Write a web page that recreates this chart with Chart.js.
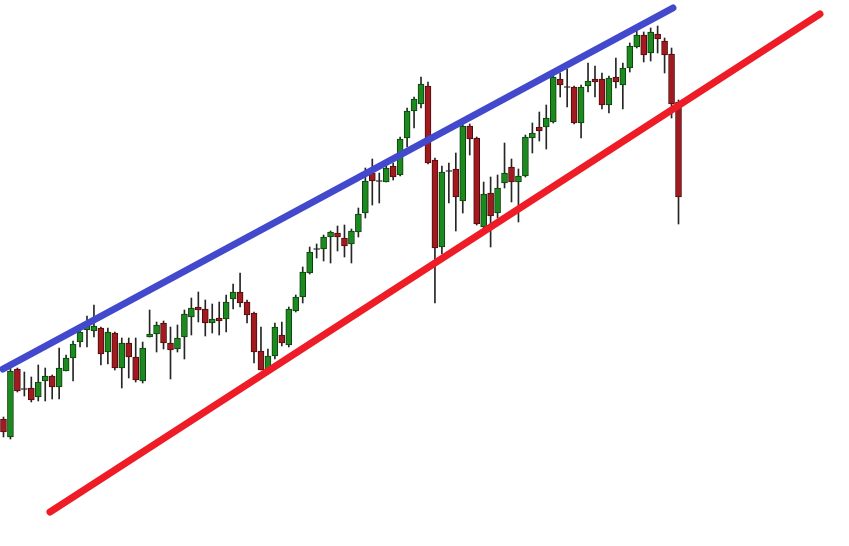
<!DOCTYPE html>
<html>
<head>
<meta charset="utf-8">
<script src="https://cdn.jsdelivr.net/npm/chart.js@4.4.1/dist/chart.umd.min.js"></script>
<style>
  html, body { margin: 0; padding: 0; background: #ffffff; }
  #wrap { position: relative; width: 849px; height: 546px; }
</style>
</head>
<body>
<div id="wrap"><canvas id="c"></canvas></div>
<script>
// ---- Data (prices in arbitrary chart units) ----
const opens  = [127,109,177,157,158,149,165,170,159,175,188,204,216,215,218,194,213,178,203,189,165,209,212,223,203,197,209,229,239,237,223,228,227,247,254,244,233,195,177,190,211,201,235,249,273,297,297,309,313,308,302,314,333,373,365,364,380,371,408,435,442,460,386,299,375,377,345,420,408,319,353,333,363,379,364,370,408,419,419,424,467,459,459,423,460,467,467,441,469,461,478,499,511,493,512,505,492,444];
const highs  = [129,178,178,174,169,181,178,171,198,191,205,221,230,241,219,218,214,208,208,208,204,236,224,225,219,221,236,248,254,246,242,244,251,262,273,246,234,219,197,223,224,239,251,279,299,302,311,315,320,321,317,338,378,387,373,381,383,409,438,449,469,464,388,380,383,393,424,422,409,364,369,371,403,387,377,411,423,434,441,471,473,477,460,461,483,480,473,470,488,483,503,515,514,518,520,508,498,446];
const lows   = [109,107,154,150,144,145,145,147,147,175,165,199,199,209,181,182,176,158,168,164,163,209,194,197,167,194,187,211,224,210,213,211,214,237,239,223,183,176,176,187,200,199,234,243,272,288,285,283,295,289,283,309,328,341,343,364,366,370,399,418,438,382,243,292,343,315,333,391,321,318,299,328,358,344,324,369,393,405,397,423,449,439,422,408,454,449,437,433,458,437,474,498,484,485,493,473,428,322];
const closes = [114,175,155,157,146,164,170,159,178,188,202,214,220,220,192,214,178,203,189,166,198,212,221,203,196,208,232,238,236,223,227,225,244,254,243,231,194,176,190,219,203,237,249,274,294,297,309,314,309,300,315,332,365,365,365,378,369,407,435,447,462,383,298,374,375,349,420,407,322,352,330,358,373,364,370,409,413,415,428,469,461,459,423,459,465,464,441,468,464,478,500,511,491,514,507,491,442,349];

// Trend lines: [bar index, price] for start and end
const upperLine = [[-0.07, 177], [96.2, 538]];
const lowerLine = [[6.68, 34], [117.33, 532]];

const totalSlots = 122;  // candle slots across the window (incl. empty right side)
const yMin = 0, yMax = 546;

// ---- Build datasets ----
const labels = Array.from({length: totalSlots}, (_, i) => String(i));
const wickData = labels.map((_, i) => i < opens.length ? [lows[i], highs[i]] : null);
const bodyData = labels.map((_, i) => {
  if (i >= opens.length) return null;
  const lo = Math.min(opens[i], closes[i]), hi = Math.max(opens[i], closes[i]);
  if (hi - lo < 1) { const m = (hi + lo) / 2; return [m - 0.5, m + 0.5]; }
  return [lo, hi];
});
const kind = (i) => {
  if (i >= opens.length) return 'none';
  if (Math.abs(opens[i] - closes[i]) < 1) return 'doji';
  return closes[i] > opens[i] ? 'up' : 'down';
};
const fillOf = (ctx) => ({up: '#1d8a1f', down: '#a11a1f', doji: '#222222', none: '#000'})[kind(ctx.dataIndex)];
const edgeOf = (ctx) => ({up: '#0c3f0d', down: '#4f0b0d', doji: '#222222', none: '#000'})[kind(ctx.dataIndex)];

const toPts = (arr) => arr.map(p => ({x: p[0], y: p[1]}));

new Chart(document.getElementById('c'), {
  type: 'bar',
  data: {
    labels: labels,
    datasets: [
      {
        label: 'wick', data: wickData, grouped: false, order: 3,
        backgroundColor: '#262626', borderWidth: 0, barThickness: 1
      },
      {
        label: 'body', data: bodyData, grouped: false, order: 2,
        backgroundColor: fillOf, borderColor: edgeOf, borderWidth: 1,
        borderSkipped: false, barThickness: 6
      },
      {
        type: 'line', label: 'upper', data: toPts(upperLine), xAxisID: 'x2', order: 1,
        borderColor: '#4249cc', borderWidth: 7, borderCapStyle: 'round',
        pointRadius: 0, fill: false, tension: 0
      },
      {
        type: 'line', label: 'lower', data: toPts(lowerLine), xAxisID: 'x2', order: 0,
        borderColor: '#ee1c26', borderWidth: 7, borderCapStyle: 'round',
        pointRadius: 0, fill: false, tension: 0
      }
    ]
  },
  options: {
    responsive: true,
    maintainAspectRatio: false,
    animation: false,
    layout: { padding: 0 },
    plugins: { legend: { display: false }, tooltip: { enabled: false } },
    scales: {
      x: { type: 'category', display: false, offset: true },
      x2: { type: 'linear', display: false, offset: false, grid: { offset: false },
            min: -0.5, max: totalSlots - 0.5 },
      y: { display: false, min: yMin, max: yMax }
    }
  }
});
</script>
</body>
</html>
